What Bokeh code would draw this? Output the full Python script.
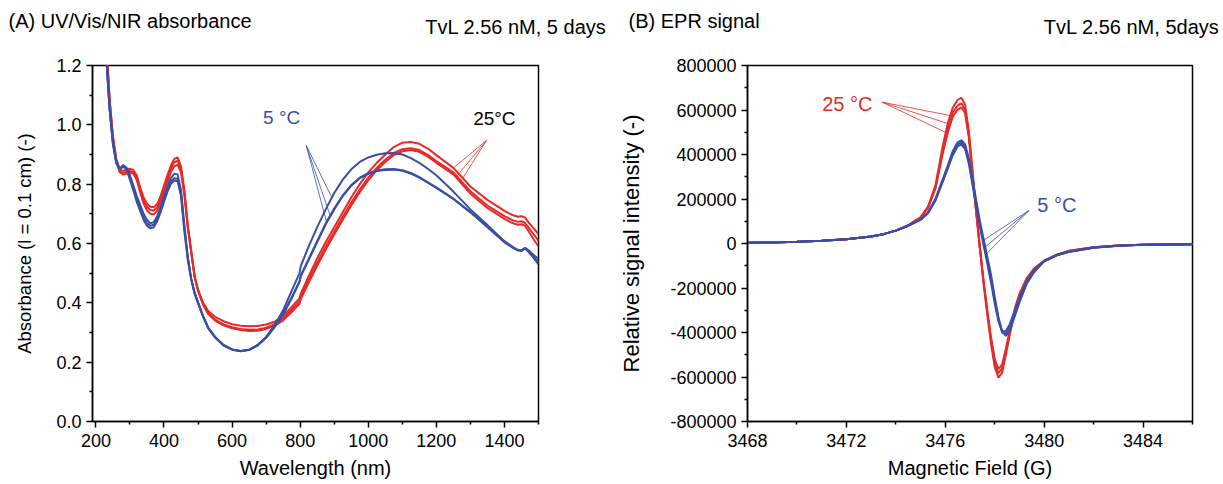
from bokeh.plotting import figure
from bokeh.layouts import row, column
from bokeh.models import Label, FixedTicker, PrintfTickFormatter, Range1d
from bokeh.embed import file_html
from bokeh.resources import INLINE

FONT = "Liberation Sans"
RED = "#e62a2a"
BLUE = "#3a4fa3"

# ---------------- (A) UV/Vis/NIR absorbance ----------------
wavelength = [225, 232, 240, 250, 260, 270, 280, 290, 300, 310,
              320, 330, 340, 350, 360, 370, 380, 390, 400, 410,
              420, 430, 440, 450, 460, 470, 480, 490, 500, 515,
              530, 550, 575, 600, 625, 650, 675, 700, 725, 750,
              775, 798, 802, 825, 850, 875, 900, 925, 950, 975,
              1000, 1025, 1050, 1075, 1100, 1125, 1150, 1175, 1200, 1250,
              1300, 1350, 1400, 1425, 1440, 1450, 1460, 1470, 1485, 1500]

abs_25c_1 = [1.36, 1.25, 1.09, 0.96, 0.885, 0.85, 0.845, 0.85, 0.852, 0.848,
             0.83, 0.79, 0.755, 0.735, 0.724, 0.722, 0.733, 0.76, 0.795, 0.83,
             0.862, 0.885, 0.89, 0.86, 0.78, 0.66, 0.575, 0.49, 0.445, 0.40,
             0.372, 0.353, 0.338, 0.328, 0.323, 0.321, 0.322, 0.327, 0.336, 0.356,
             0.386, 0.415, 0.432, 0.49, 0.55, 0.605, 0.655, 0.705, 0.755, 0.80,
             0.84, 0.872, 0.90, 0.925, 0.94, 0.942, 0.936, 0.92, 0.898, 0.855,
             0.792, 0.747, 0.71, 0.695, 0.69, 0.692, 0.688, 0.672, 0.652, 0.632]
abs_25c_2 = [1.36, 1.25, 1.088, 0.955, 0.88, 0.845, 0.838, 0.842, 0.845, 0.84,
             0.82, 0.78, 0.745, 0.724, 0.713, 0.711, 0.722, 0.75, 0.785, 0.82,
             0.852, 0.874, 0.879, 0.85, 0.77, 0.655, 0.572, 0.488, 0.442, 0.396,
             0.365, 0.343, 0.327, 0.318, 0.312, 0.309, 0.31, 0.316, 0.328, 0.348,
             0.377, 0.405, 0.422, 0.478, 0.535, 0.59, 0.64, 0.69, 0.738, 0.782,
             0.822, 0.855, 0.882, 0.905, 0.918, 0.921, 0.915, 0.899, 0.878, 0.84,
             0.776, 0.728, 0.692, 0.678, 0.673, 0.675, 0.67, 0.655, 0.632, 0.61]
abs_25c_3 = [1.36, 1.245, 1.085, 0.952, 0.876, 0.84, 0.832, 0.836, 0.84, 0.835,
             0.814, 0.772, 0.735, 0.712, 0.70, 0.698, 0.71, 0.738, 0.774, 0.808,
             0.84, 0.86, 0.866, 0.84, 0.762, 0.65, 0.57, 0.486, 0.44, 0.393,
             0.362, 0.34, 0.324, 0.314, 0.308, 0.305, 0.306, 0.312, 0.323, 0.341,
             0.369, 0.397, 0.413, 0.468, 0.525, 0.58, 0.63, 0.68, 0.728, 0.773,
             0.813, 0.847, 0.875, 0.898, 0.911, 0.915, 0.909, 0.893, 0.872, 0.833,
             0.768, 0.72, 0.683, 0.668, 0.663, 0.665, 0.66, 0.643, 0.615, 0.59]
abs_5c_1 = [1.33, 1.20, 1.06, 0.94, 0.875, 0.853, 0.858, 0.855, 0.83, 0.795,
            0.76, 0.73, 0.70, 0.68, 0.668, 0.672, 0.692, 0.722, 0.757, 0.792,
            0.82, 0.835, 0.833, 0.78, 0.66, 0.555, 0.48, 0.43, 0.40, 0.355,
            0.316, 0.285, 0.258, 0.243, 0.238, 0.242, 0.258, 0.285, 0.325, 0.375,
            0.44, 0.50, 0.525, 0.59, 0.655, 0.715, 0.77, 0.815, 0.85, 0.875,
            0.89, 0.899, 0.904, 0.905, 0.90, 0.888, 0.872, 0.852, 0.83, 0.775,
            0.715, 0.662, 0.608, 0.588, 0.578, 0.576, 0.585, 0.578, 0.562, 0.548]
abs_5c_2 = [1.33, 1.20, 1.055, 0.935, 0.87, 0.85, 0.86, 0.85, 0.815, 0.78,
            0.74, 0.71, 0.68, 0.66, 0.651, 0.655, 0.675, 0.705, 0.74, 0.775,
            0.80, 0.812, 0.81, 0.76, 0.64, 0.545, 0.478, 0.433, 0.40, 0.352,
            0.314, 0.283, 0.256, 0.242, 0.237, 0.241, 0.256, 0.282, 0.318, 0.36,
            0.415, 0.47, 0.49, 0.545, 0.605, 0.665, 0.715, 0.76, 0.795, 0.82,
            0.835, 0.844, 0.848, 0.849, 0.845, 0.836, 0.822, 0.805, 0.787, 0.75,
            0.705, 0.655, 0.604, 0.585, 0.576, 0.575, 0.583, 0.573, 0.552, 0.53]
abs_5c_3 = [1.33, 1.20, 1.058, 0.938, 0.872, 0.853, 0.865, 0.855, 0.82, 0.785,
            0.748, 0.715, 0.688, 0.668, 0.66, 0.663, 0.683, 0.713, 0.748, 0.783,
            0.808, 0.82, 0.818, 0.768, 0.648, 0.55, 0.481, 0.435, 0.402, 0.354,
            0.316, 0.285, 0.257, 0.243, 0.238, 0.242, 0.257, 0.283, 0.32, 0.363,
            0.418, 0.473, 0.493, 0.548, 0.608, 0.668, 0.718, 0.762, 0.797, 0.822,
            0.837, 0.846, 0.85, 0.851, 0.847, 0.838, 0.824, 0.806, 0.789, 0.751,
            0.706, 0.657, 0.606, 0.587, 0.578, 0.577, 0.585, 0.576, 0.556, 0.535]

a_xticks = [200, 400, 600, 800, 1000, 1200, 1400]
a_xminor = [300, 500, 700, 900, 1100, 1300, 1500]
a_yticks = [0.0, 0.2, 0.4, 0.6, 0.8, 1.0, 1.2]
a_yminor = [0.1, 0.3, 0.5, 0.7, 0.9, 1.1]

# ---------------- (B) EPR signal ----------------
field = [3468, 3469, 3470, 3471, 3472, 3473, 3473.5, 3474, 3474.5, 3475,
         3475.3, 3475.6, 3475.9, 3476.1, 3476.3, 3476.5, 3476.65, 3476.8, 3476.95, 3477.1,
         3477.25, 3477.4, 3477.55, 3477.7, 3477.85, 3478.0, 3478.15, 3478.3, 3478.45, 3478.6,
         3478.8, 3479.0, 3479.3, 3479.6, 3480, 3480.5, 3481, 3482, 3483, 3484,
         3485, 3486]

epr_25c_1 = [3000, 5000, 8000, 12000, 19000, 31000, 42000, 58000, 82000, 118000,
             165000, 260000, 440000, 540000, 610000, 645000, 655000, 625000, 510000, 330000,
             150000, -20000, -180000, -320000, -450000, -555000, -603000, -580000, -500000, -415000,
             -310000, -235000, -160000, -115000, -80000, -52000, -35000, -17000, -9000, -6000,
             -4000, -3000]
epr_25c_2 = [3000, 5000, 8000, 12000, 19000, 31000, 42000, 58000, 82000, 117000,
             162000, 252000, 420000, 515000, 588000, 620000, 630000, 602000, 492000, 318000,
             143000, -20000, -175000, -310000, -435000, -535000, -583000, -562000, -487000, -405000,
             -303000, -230000, -157000, -113000, -79000, -51000, -34000, -17000, -9000, -6000,
             -4000, -3000]
epr_25c_3 = [3000, 5000, 8000, 12000, 19000, 31000, 42000, 58000, 81000, 116000,
             160000, 245000, 405000, 498000, 570000, 602000, 612000, 585000, 478000, 308000,
             138000, -20000, -170000, -300000, -420000, -518000, -565000, -545000, -473000, -395000,
             -297000, -226000, -155000, -111000, -78000, -50000, -33000, -17000, -9000, -6000,
             -4000, -3000]
epr_5c_1 = [3000, 5000, 8000, 12000, 19000, 31000, 42000, 58000, 80000, 108000,
            140000, 200000, 290000, 350000, 415000, 455000, 464000, 445000, 385000, 290000,
            195000, 100000, 20000, -60000, -140000, -240000, -330000, -395000, -415000, -395000,
            -330000, -265000, -180000, -128000, -80000, -54000, -38000, -19000, -10000, -6000,
            -4000, -3000]
epr_5c_2 = [3000, 5000, 8000, 12000, 19000, 31000, 42000, 58000, 80000, 107000,
            138000, 196000, 284000, 343000, 405000, 445000, 455000, 435000, 372000, 278000,
            182000, 88000, 5000, -75000, -158000, -255000, -340000, -400000, -405000, -380000,
            -318000, -255000, -173000, -124000, -78000, -53000, -37000, -19000, -10000, -6000,
            -4000, -3000]
epr_5c_3 = [3000, 5000, 8000, 12000, 19000, 31000, 42000, 58000, 79000, 106000,
            136000, 192000, 278000, 336000, 396000, 436000, 445000, 425000, 360000, 265000,
            168000, 75000, -8000, -90000, -175000, -270000, -350000, -395000, -393000, -365000,
            -305000, -245000, -167000, -120000, -76000, -52000, -36000, -18000, -10000, -6000,
            -4000, -3000]

b_xticks = [3468, 3472, 3476, 3480, 3484]
b_xminor = [3470, 3474, 3478, 3482, 3486]
b_yticks = [-800000, -600000, -400000, -200000, 0, 200000, 400000, 600000, 800000]
b_yminor = [-700000, -500000, -300000, -100000, 100000, 300000, 500000, 700000]

# annotation pointer lines (data coordinates)
a_blue_ptr = dict(x0=[818, 818, 818], y0=[0.93, 0.93, 0.93],
                  x1=[878, 888, 893], y1=[0.67, 0.694, 0.755])
a_red_ptr = dict(x0=[1347, 1347, 1347], y0=[0.947, 0.947, 0.947],
                 x1=[1250, 1260, 1270], y1=[0.855, 0.827, 0.806])
b_red_ptr = dict(x0=[3473.45] * 3, y0=[635000] * 3,
                 x1=[3476.21, 3476.14, 3476.01], y1=[575000, 538000, 500000])
b_blue_ptr = dict(x0=[3479.38] * 3, y0=[148000] * 3,
                  x1=[3477.53, 3477.6, 3477.67], y1=[13000, -17000, -46000])


def style(p, xlabel, ylabel, xlab_size, ylab_size, ylab_standoff):
    p.xgrid.visible = False
    p.ygrid.visible = False
    p.outline_line_color = "black"
    p.outline_line_width = 1.5
    p.outline_line_alpha = 1
    p.background_fill_color = "white"
    p.border_fill_color = "white"
    for ax in (p.xaxis[0], p.yaxis[0]):
        ax.axis_line_color = "black"
        ax.axis_line_width = 1.5
        ax.major_tick_line_color = "black"
        ax.major_tick_line_width = 1.5
        ax.minor_tick_line_color = "black"
        ax.minor_tick_line_width = 1.5
        ax.major_tick_in = 0
        ax.major_tick_out = 6
        ax.minor_tick_in = 0
        ax.minor_tick_out = 3
        ax.major_label_text_font = FONT
        ax.major_label_text_font_size = "18px"
        ax.major_label_text_color = "black"
        ax.major_label_standoff = 5
        ax.axis_label_text_font = FONT
        ax.axis_label_text_font_style = "normal"
        ax.axis_label_text_color = "black"
    p.xaxis[0].major_label_standoff = 6
    p.xaxis[0].axis_label = xlabel
    p.xaxis[0].axis_label_text_font_size = xlab_size
    p.xaxis[0].axis_label_standoff = 7
    p.yaxis[0].axis_label = ylabel
    p.yaxis[0].axis_label_text_font_size = ylab_size
    p.yaxis[0].axis_label_standoff = ylab_standoff


def add_label(p, x, y, text, color="black", size="20px", align="left"):
    p.add_layout(Label(x=x, y=y, text=text, text_color=color, text_font=FONT,
                       text_font_size=size, text_align=align, text_baseline="middle"))


# ---------- header with panel titles (pixel-like coordinates) ----------
head = figure(width=1223, height=50, output_backend="svg", toolbar_location=None,
              x_range=Range1d(0, 1223), y_range=Range1d(50, 0),
              x_axis_type=None, y_axis_type=None, min_border=0)
head.outline_line_color = None
head.background_fill_color = "white"
head.border_fill_color = "white"
add_label(head, 8, 20, "(A) UV/Vis/NIR absorbance")
add_label(head, 606, 26, "TvL 2.56 nM, 5 days", align="right")
add_label(head, 628, 20, "(B) EPR signal")
add_label(head, 1219, 26, "TvL 2.56 nM, 5days", align="right")

# ---------- figure A ----------
pa = figure(width=615, height=434, output_backend="svg", toolbar_location=None,
            x_range=Range1d(190, 1500), y_range=Range1d(0, 1.2),
            min_border_left=92, min_border_right=77, min_border_top=15, min_border_bottom=63)
style(pa, "Wavelength (nm)", "Absorbance (l = 0.1 cm) (-)", "20px", "18.5px", 18)
pa.xaxis[0].ticker = FixedTicker(ticks=a_xticks, minor_ticks=a_xminor)
pa.yaxis[0].ticker = FixedTicker(ticks=a_yticks, minor_ticks=a_yminor)
pa.yaxis[0].formatter = PrintfTickFormatter(format="%.1f")

for ys in (abs_25c_1, abs_25c_2, abs_25c_3):
    pa.line(wavelength, ys, line_color=RED, line_width=2)
for ys in (abs_5c_1, abs_5c_2, abs_5c_3):
    pa.line(wavelength, ys, line_color=BLUE, line_width=2)
pa.segment(line_color=BLUE, line_width=0.8, **a_blue_ptr)
pa.segment(line_color=RED, line_width=0.8, **a_red_ptr)

add_label(pa, 691, 1.026, "5 °C", BLUE, "19px")
add_label(pa, 1308, 1.02, "25°C", "black", "19px")

# ---------- figure B ----------
pb = figure(width=608, height=434, output_backend="svg", toolbar_location=None,
            x_range=Range1d(3468, 3486), y_range=Range1d(-800000, 800000),
            min_border_left=132, min_border_right=31, min_border_top=15, min_border_bottom=63)
style(pb, "Magnetic Field (G)", "Relative signal intensity (-)", "20px", "22px", 23)
pb.xaxis[0].ticker = FixedTicker(ticks=b_xticks, minor_ticks=b_xminor)
pb.yaxis[0].ticker = FixedTicker(ticks=b_yticks, minor_ticks=b_yminor)
pb.yaxis[0].formatter = PrintfTickFormatter(format="%d")

for ys in (epr_25c_1, epr_25c_2, epr_25c_3):
    pb.line(field, ys, line_color=RED, line_width=2)
for ys in (epr_5c_1, epr_5c_2, epr_5c_3):
    pb.line(field, ys, line_color=BLUE, line_width=2)
pb.segment(line_color=RED, line_width=0.8, **b_red_ptr)
pb.segment(line_color=BLUE, line_width=0.8, **b_blue_ptr)

add_label(pb, 3471.02, 629000, "25 °C", RED, "20px")
add_label(pb, 3479.72, 175000, "5 °C", BLUE, "20px")

layout = column(head, row(pa, pb))
open("out.html", "w").write(file_html(layout, INLINE))
